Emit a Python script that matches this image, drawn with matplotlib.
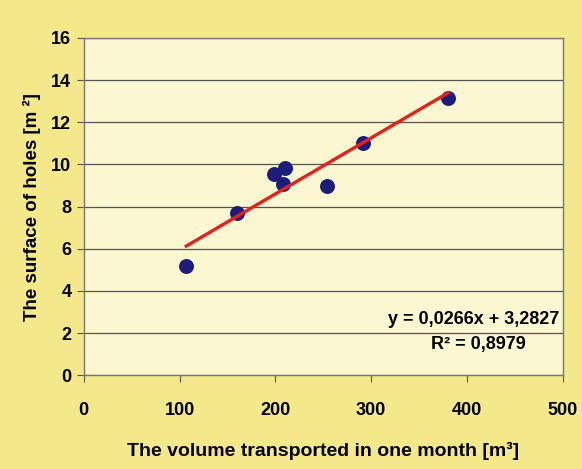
import numpy as np
import matplotlib.pyplot as plt

plt.rcParams['font.family'] = ['Liberation Sans', 'DejaVu Sans']
plt.rcParams['font.weight'] = 'bold'
plt.rcParams['axes.labelweight'] = 'bold'

# volume transported per month [m3] and surface of holes [m2]
volume = [107, 160, 199, 208, 210, 254, 291, 380]
surface = [5.2, 7.7, 9.55, 9.05, 9.85, 9.0, 11.0, 13.15]
slope = 0.0266
intercept = 3.2827
r2 = 0.8979

fig = plt.figure(figsize=(5.82, 4.69), dpi=100, facecolor='#F3E98A')
ax = fig.add_axes([0.144, 0.2, 0.823, 0.719])
ax.set_facecolor('#FBF7D0')

ax.scatter(volume, surface, s=95, color='#1C1C7A', zorder=3)
xl = np.array([min(volume), max(volume)])
ax.plot(xl, slope * xl + intercept, color='#E8201C', lw=2.4, zorder=4)

ax.set_xlim(0, 500)
ax.set_ylim(0, 16)
ax.set_xticks(range(0, 501, 100))
ax.set_yticks(range(0, 17, 2))
ax.yaxis.grid(True, color='#555555', lw=0.9)
ax.set_axisbelow(True)
for s in ax.spines.values():
    s.set_color('#777777')
    s.set_linewidth(1)
ax.tick_params(labelsize=13, length=5, color='#555555', pad=4)
ax.tick_params(axis='x', pad=14)

ax.set_ylabel('The surface of holes [m ²]', fontsize=13.5, labelpad=7)
ax.set_xlabel('The volume transported in one month [m³]', fontsize=14, labelpad=17)

ax.text(0.993, 0.165, 'y = 0,0266x + 3,2827', transform=ax.transAxes,
        ha='right', va='center', fontsize=13)
ax.text(0.923, 0.09, 'R² = 0,8979', transform=ax.transAxes,
        ha='right', va='center', fontsize=13)

fig.savefig('out.png', dpi=100, facecolor=fig.get_facecolor())
